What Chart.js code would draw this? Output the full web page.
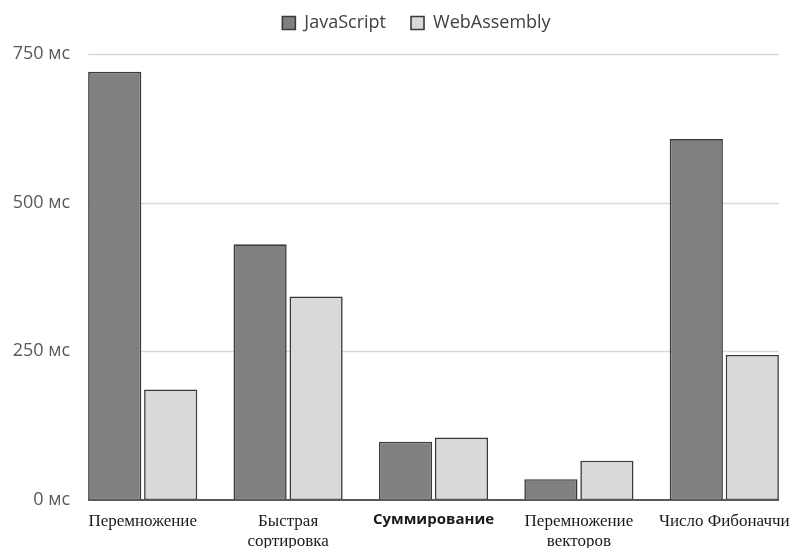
<!DOCTYPE html>
<html lang="ru">
<head>
<meta charset="utf-8">
<title>JavaScript и WebAssembly: время выполнения</title>
<script src="https://cdn.jsdelivr.net/npm/chart.js@4/dist/chart.umd.min.js"></script>
<style>
  html, body { margin: 0; padding: 0; background: #ffffff; }
  #wrap { width: 797px; height: 548px; position: relative; }
</style>
</head>
<body>
<div id="wrap"><canvas id="chart"></canvas></div>
<script>
// Время выполнения тестов, мс
const categories = [
  'Перемножение',
  ['Быстрая', 'сортировка'],
  'Суммирование',
  ['Перемножение', 'векторов'],
  'Число Фибоначчи'
];
const seriesNames = ['JavaScript', 'WebAssembly'];
const jsTimes = [720, 430, 98, 35, 607];
const wasmTimes = [186, 342, 105, 66, 244];
const yTickValues = [0, 250, 500, 750];

// Подписи категорий набраны разными шрифтами
const serifFont = { family: '"Liberation Serif", "DejaVu Serif", serif', size: 17, weight: 'normal', lineHeight: 1.2 };
const sansBoldFont = { family: '"Open Sans", "Noto Sans", sans-serif', size: 15, weight: 'bold', lineHeight: 1.2 };
const sansLabelIndex = 2;

function barSpan(chart) {
  const first = chart.getDatasetMeta(0).data;
  const last = chart.getDatasetMeta(1).data;
  if (!first.length || !last.length) return null;
  const b0 = first[0];
  const b1 = last[last.length - 1];
  return [b0.x - b0.width / 2, b1.x + b1.width / 2];
}

// Сетка и ось X рисуются только под столбцами
const gridPlugin = {
  id: 'barGrid',
  beforeDatasetsDraw(chart) {
    const span = barSpan(chart);
    if (!span) return;
    const y = chart.scales.y;
    const ctx = chart.ctx;
    ctx.save();
    ctx.strokeStyle = '#d9d9d9';
    ctx.lineWidth = 1.5;
    yTickValues.forEach(v => {
      if (v === 0) return;
      const py = Math.round(y.getPixelForValue(v)) + 0.5;
      ctx.beginPath();
      ctx.moveTo(span[0], py);
      ctx.lineTo(span[1], py);
      ctx.stroke();
    });
    ctx.restore();
  },
  afterDatasetsDraw(chart) {
    const span = barSpan(chart);
    if (!span) return;
    const py = chart.scales.y.getPixelForValue(0);
    const ctx = chart.ctx;
    ctx.save();
    ctx.strokeStyle = '#595959';
    ctx.lineWidth = 2;
    ctx.beginPath();
    ctx.moveTo(span[0], py);
    ctx.lineTo(span[1], py);
    ctx.stroke();
    ctx.restore();
  }
};

// Легенда: фиксированная высота и сдвиг положения
const legendLayoutPlugin = {
  id: 'legendLayout',
  beforeInit(chart) {
    const legend = chart.legend;
    const origFit = legend.fit;
    legend.fit = function () {
      origFit.call(this);
      this.height = 54;
    };
    const origDraw = legend.draw;
    legend.draw = function () {
      const ctx = this.ctx;
      ctx.save();
      ctx.translate(18, -11);
      origDraw.call(this);
      ctx.restore();
    };
  }
};

new Chart(document.getElementById('chart'), {
  type: 'bar',
  data: {
    labels: categories,
    datasets: [
      {
        label: seriesNames[0],
        data: jsTimes,
        backgroundColor: '#808080',
        borderColor: '#3a3a3a',
        borderWidth: 1.6,
        borderSkipped: false
      },
      {
        label: seriesNames[1],
        data: wasmTimes,
        backgroundColor: '#d9d9d9',
        borderColor: '#3a3a3a',
        borderWidth: 1.6,
        borderSkipped: false
      }
    ]
  },
  options: {
    responsive: true,
    maintainAspectRatio: false,
    animation: false,
    layout: { padding: { top: 0, right: 0, bottom: 0, left: 0 } },
    datasets: {
      bar: { categoryPercentage: 0.77, barPercentage: 0.95 }
    },
    plugins: {
      legend: {
        position: 'top',
        align: 'center',
        labels: {
          boxWidth: 13,
          boxHeight: 13,
          padding: 25,
          color: '#404040',
          font: { family: '"Open Sans", "Noto Sans", sans-serif', size: 18 }
        }
      },
      tooltip: { enabled: false }
    },
    scales: {
      x: {
        offset: true,
        grid: { display: false, drawTicks: false },
        border: { display: false },
        afterFit(scale) {
          scale.height = 48;
          scale.paddingLeft = 0;
          scale.paddingRight = 0;
        },
        ticks: {
          padding: 11,
          maxRotation: 0,
          autoSkip: false,
          color: '#1a1a1a',
          font: (ctx) => (ctx.index === sansLabelIndex ? sansBoldFont : serifFont)
        }
      },
      y: {
        min: 0,
        max: 750,
        afterFit(scale) { scale.width = 70; },
        afterBuildTicks(scale) { scale.ticks = yTickValues.map(v => ({ value: v })); },
        grid: { display: false, drawTicks: false },
        border: { display: false },
        ticks: {
          padding: 0,
          color: '#595959',
          font: { family: '"Open Sans", "Noto Sans", sans-serif', size: 18 },
          callback: (v) => v + ' мс'
        }
      }
    }
  },
  plugins: [gridPlugin, legendLayoutPlugin]
});
</script>
</body>
</html>
